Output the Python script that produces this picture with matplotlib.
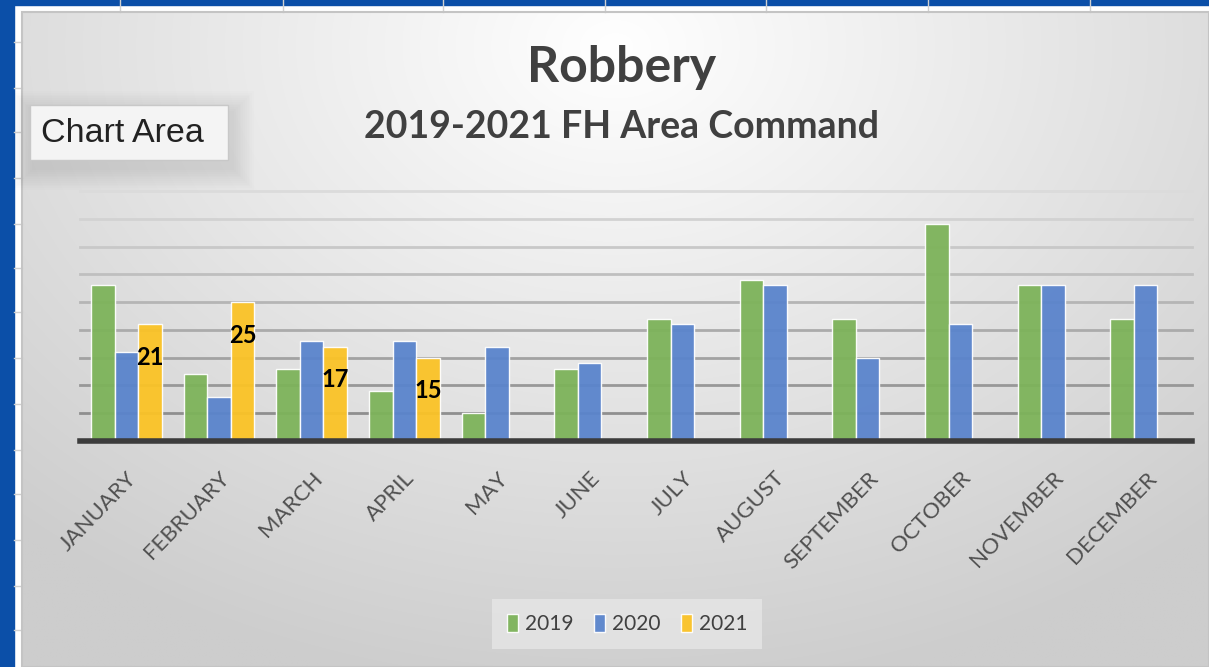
import numpy as np
import matplotlib
matplotlib.use("Agg")
import matplotlib.pyplot as plt
from matplotlib.patches import Rectangle

months = ["JANUARY", "FEBRUARY", "MARCH", "APRIL", "MAY", "JUNE", "JULY",
          "AUGUST", "SEPTEMBER", "OCTOBER", "NOVEMBER", "DECEMBER"]
robbery_2019 = [28, 12, 13, 9, 5, 13, 22, 29, 22, 39, 28, 22]
robbery_2020 = [16, 8, 18, 18, 17, 14, 21, 28, 15, 21, 28, 28]
robbery_2021 = [21, 25, 17, 15]
series_names = ["2019", "2020", "2021"]
colors = ["#7db35a", "#5a84cc", "#fbc326"]

W, H = 1209, 667


def main():
    plt.rcParams["font.family"] = ["Lato", "DejaVu Sans"]
    fig = plt.figure(figsize=(W / 100, H / 100), dpi=100)

    # background: screenshot frame + chart area gradient (pixel coords)
    bg = fig.add_axes([0, 0, 1, 1], zorder=-10)
    bg.set_xlim(0, W)
    bg.set_ylim(H, 0)
    bg.axis("off")
    bg.add_patch(Rectangle((0, 0), W, H, color="white"))
    for x in [120, 283, 443, 605, 766, 928, 1090]:
        bg.plot([x, x], [0, 12], color="#d0d0d0", lw=1)
    for y in [42, 88, 132, 178, 224, 268, 312, 358, 404, 450, 494, 540, 586, 630]:
        bg.plot([14, 22], [y, y], color="#d0d0d0", lw=1)
    bg.add_patch(Rectangle((0, 0), W, 5, color="#0b4fa8"))
    bg.add_patch(Rectangle((0, 0), 14, H, color="#0b4fa8"))

    gx, gy = np.meshgrid(np.linspace(0, 1, 300), np.linspace(0, 1, 200))
    d = np.sqrt(((gx - 0.5) / 0.75) ** 2 + ((gy - 0.05) / 1.0) ** 2)
    gray = (255 - 50 * np.clip(d, 0, 1)) / 255.0
    img = np.dstack([gray, gray, gray])
    bg.imshow(img, extent=[22, W, H, 12], aspect="auto", interpolation="bilinear", zorder=1)
    bg.add_patch(Rectangle((22, 12), W - 22, H - 12, fill=False, ec="#c4c4c4", lw=1.5, zorder=2))

    # "Chart Area" tooltip with soft shadow
    for i in range(12):
        s = 22 - i * 1.8
        bg.add_patch(Rectangle((30 - s + 4, 105 - s + 8), 198 + 2 * s, 55 + 2 * s,
                               color="black", alpha=0.008, lw=0, zorder=3))
    bg.add_patch(Rectangle((30, 105), 198, 55, fc="#f4f4f4", ec="#c8c8c8", lw=1, zorder=4))
    bg.text(41, 133, "Chart Area", fontsize=24.5, color="#222222", va="center", ha="left",
            family=["Liberation Sans"], zorder=5)

    # titles
    bg.text(622, 68, "Robbery", fontsize=36, weight="bold", color="#404040",
            ha="center", va="center", zorder=5)
    bg.text(622, 127, "2019-2021 FH Area Command", fontsize=27, weight="bold",
            color="#404040", ha="center", va="center", zorder=5)

    # plot area
    ax = fig.add_axes([80 / W, 1 - 441 / H, (1192 - 80) / W, (441 - 191) / H])
    ax.set_facecolor("none")
    ax.set_xlim(-0.5, 11.5)
    ax.set_ylim(0, 45)
    ax.set_yticks(np.arange(5, 46, 5))
    ax.tick_params(axis="y", left=False, labelleft=False)
    ax.tick_params(axis="x", bottom=False, pad=16)
    for sp in ax.spines.values():
        sp.set_visible(False)

    grid_cols = np.linspace(0.56, 0.86, 9)
    for yv, c in zip(np.arange(5, 46, 5), grid_cols):
        ax.axhline(yv, color=str(c), lw=2, zorder=0, clip_on=False)

    width = 0.255
    data = [robbery_2019, robbery_2020, robbery_2021]
    for i, (vals, name, col) in enumerate(zip(data, series_names, colors)):
        xs = np.arange(len(vals)) + (i - 1) * width
        bars = ax.bar(xs, vals, width=width, color=col, edgecolor="white",
                      linewidth=1, label=name, zorder=3, alpha=0.95)
        if name == "2021":
            for b, v in zip(bars, vals):
                ax.annotate(str(v), (b.get_x() + b.get_width() / 2, v),
                            xytext=(0, -33), textcoords="offset pixels",
                            ha="center", va="center", fontsize=17,
                            weight="bold", color="black", zorder=4)

    ax.axhline(0, color="#3c3c3c", lw=4, zorder=5, clip_on=False)

    ax.set_xticks(np.arange(12))
    ax.set_xticklabels(months, rotation=46, ha="right", rotation_mode="anchor",
                       fontsize=16, color="#505050")

    leg = ax.legend(loc="center", bbox_to_anchor=(627 / W, 1 - 624 / H),
                    bbox_transform=fig.transFigure, ncol=3, fontsize=15,
                    frameon=True, fancybox=False, handlelength=0.55,
                    handleheight=1.0, handletextpad=0.3, columnspacing=1.0,
                    borderpad=0.7)
    leg.get_frame().set_facecolor("#e6e6e6")
    leg.get_frame().set_edgecolor("none")
    for t in leg.get_texts():
        t.set_color("#404040")

    fig.savefig("out.png", dpi=100)


if __name__ == "__main__":
    main()
